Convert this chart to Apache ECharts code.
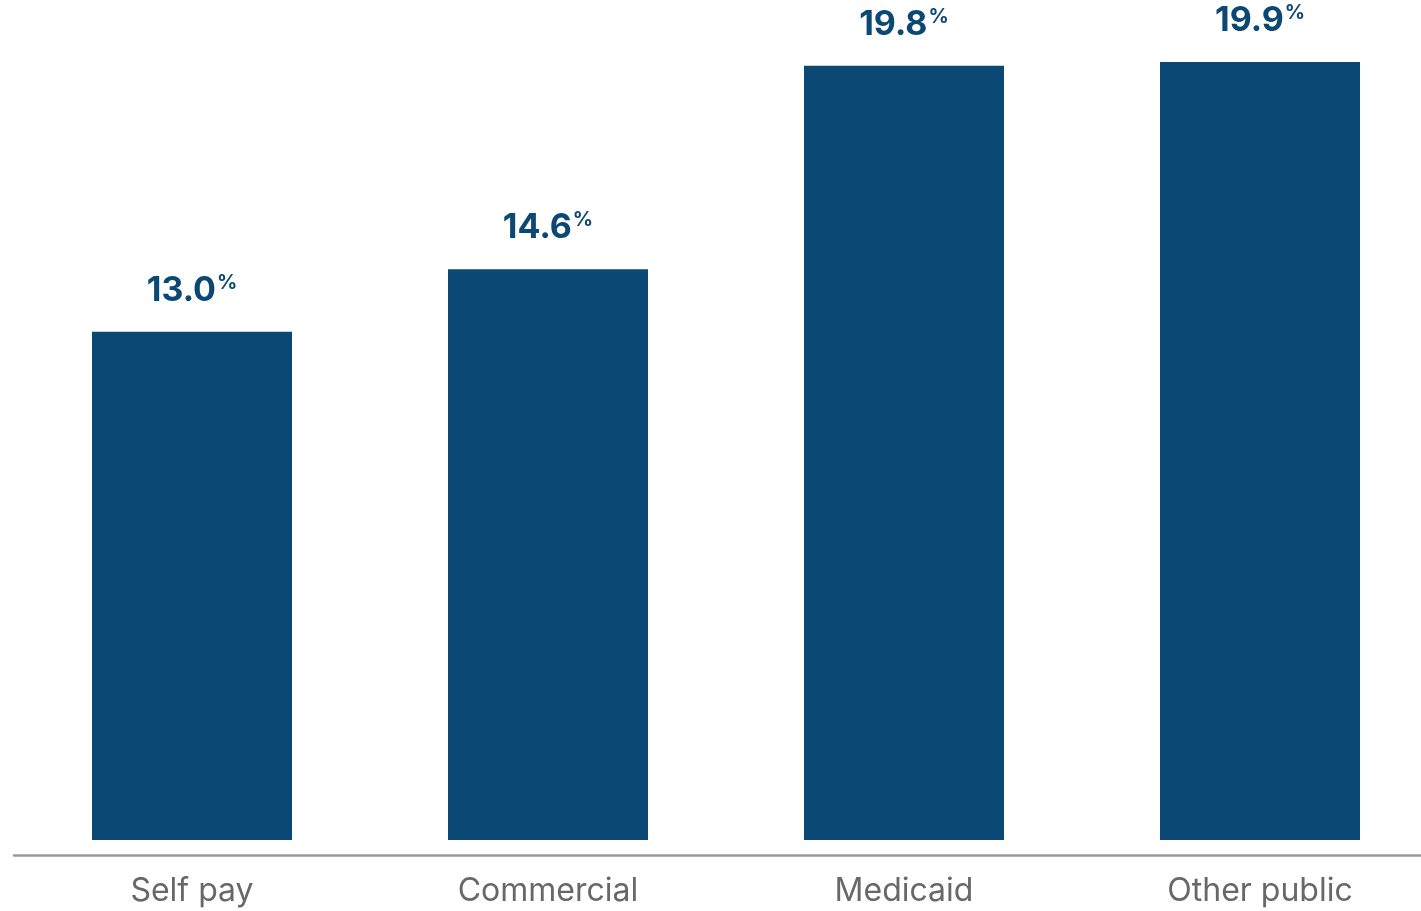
<!DOCTYPE html>
<html>
<head>
<meta charset="utf-8">
<title>Share by payer</title>
<script src="https://cdn.jsdelivr.net/npm/echarts@6/dist/echarts.min.js"></script>
<style>
  html, body { margin: 0; padding: 0; background: #ffffff; }
  #chart { width: 1421px; height: 911px; }
</style>
</head>
<body>
<div id="chart"></div>
<script>
// Payer categories and their percentage values
const categories = ['Self pay', 'Commercial', 'Medicaid', 'Other public'];
const values = [13.0, 14.6, 19.8, 19.9];

const BAR_COLOR = '#0b4873';

const chart = echarts.init(document.getElementById('chart'), null, { renderer: 'canvas' });

chart.setOption({
  animation: false,
  backgroundColor: '#ffffff',
  // the last category band runs past the right edge of the canvas
  grid: { left: 14, width: 1424, top: 58, bottom: 71, containLabel: false, outerBoundsMode: 'none' },
  xAxis: {
    type: 'category',
    data: categories,
    offset: 15,
    axisLine: { show: true, onZero: false, lineStyle: { color: '#9a9a9a', width: 2.5 } },
    axisTick: { show: false },
    axisLabel: {
      color: '#686868',
      fontFamily: 'Inter',
      fontSize: 32,
      margin: 20
    }
  },
  yAxis: {
    type: 'value',
    min: 0,
    max: 20,
    show: false,
    splitLine: { show: false }
  },
  series: [{
    type: 'bar',
    data: values,
    barWidth: 200,
    itemStyle: { color: BAR_COLOR },
    label: {
      show: true,
      position: 'top',
      distance: 23,
      formatter: p => '{v|' + p.value.toFixed(1) + '}{p|%}',
      rich: {
        v: { fontFamily: 'Inter', fontWeight: 'bold', fontSize: 34, color: BAR_COLOR, lineHeight: 36 },
        p: { fontFamily: 'Inter', fontWeight: 'bold', fontSize: 20, color: BAR_COLOR, lineHeight: 36, verticalAlign: 'top', padding: [0, 0, 0, 1] }
      }
    }
  }]
});
</script>
</body>
</html>
